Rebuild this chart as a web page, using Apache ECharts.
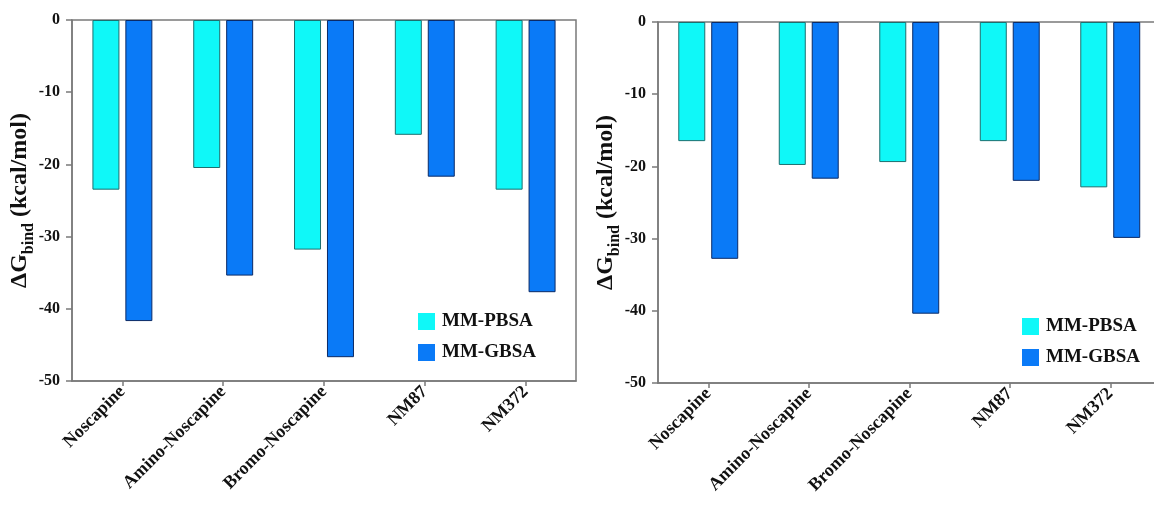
<!DOCTYPE html>
<html>
<head>
<meta charset="utf-8">
<script src="https://cdn.jsdelivr.net/npm/echarts@6/dist/echarts.min.js"></script>
<style>
  html, body { margin: 0; padding: 0; background: #fff; overflow: hidden; }
  /* a bit wider than the window so the right panel's box runs off the edge like the figure */
  #chart { width: 1164px; height: 513px; }
</style>
</head>
<body>
<div id="chart"></div>
<script>
const categories = ['Noscapine', 'Amino-Noscapine', 'Bromo-Noscapine', 'NM87', 'NM372'];
const yTicks = [0, -10, -20, -30, -40, -50];

// left panel
const pbsaLeft = [-23.5, -20.5, -31.8, -15.9, -23.5];
const gbsaLeft = [-41.7, -35.4, -46.7, -21.7, -37.7];
// right panel
const pbsaRight = [-16.5, -19.8, -19.4, -16.5, -22.9];
const gbsaRight = [-32.8, -21.7, -40.4, -22.0, -29.9];

const FONT = '"Liberation Serif", "Times New Roman", serif';
const axisGray = '#7a7a7a';
const cyan = '#0ff8f8';
const blue = '#0a7af7';

const chart = echarts.init(document.getElementById('chart'));

function xAxisFor(gridIndex) {
  return {
    type: 'category',
    gridIndex,
    data: categories,
    position: 'bottom',
    boundaryGap: true,
    axisLine: { show: true, onZero: false, lineStyle: { color: axisGray, width: 1.5 } },
    axisTick: { show: true, alignWithLabel: true, length: 5, lineStyle: { color: axisGray, width: 1.5 } },
    axisLabel: {
      rotate: 45,
      margin: 8,
      interval: 0,
      color: '#111',
      fontFamily: FONT,
      fontWeight: 'bold',
      fontSize: 18,
    },
  };
}

function yAxisFor(gridIndex) {
  return {
    type: 'value',
    gridIndex,
    min: -50,
    max: 0,
    interval: 10,
    splitLine: { show: false },
    axisLine: { show: true, lineStyle: { color: axisGray, width: 1.5 } },
    axisTick: { show: true, length: 6, lineStyle: { color: axisGray, width: 1.5 } },
    axisLabel: {
      margin: 12,
      color: '#111',
      fontFamily: FONT,
      fontWeight: 'bold',
      fontSize: 16,
      formatter: (v) => (yTicks.includes(v) ? String(v) : ''),
    },
    name: '{a|ΔG}{s|bind}{a| (kcal/mol)}',
    nameLocation: 'middle',
    nameGap: 35,
    nameMoveOverlap: false,
    nameRotate: 90,
    nameTextStyle: {
      rich: {
        a: { fontFamily: FONT, fontWeight: 'bold', fontSize: 24, color: '#111', lineHeight: 34, verticalAlign: 'middle' },
        s: { fontFamily: FONT, fontWeight: 'bold', fontSize: 16, color: '#111', lineHeight: 34, verticalAlign: 'bottom' },
      },
    },
  };
}

function barSeries(name, data, idx, color, border) {
  return {
    name,
    type: 'bar',
    xAxisIndex: idx,
    yAxisIndex: idx,
    data,
    barWidth: 27,
    barGap: '22%',
    itemStyle: { color, borderColor: border, borderWidth: 1 },
  };
}

function legendAt(left, top) {
  return {
    orient: 'vertical',
    left,
    top,
    padding: 0,
    itemWidth: 17,
    itemHeight: 17,
    itemGap: 12,
    icon: 'rect',
    data: ['MM-PBSA', 'MM-GBSA'],
    itemStyle: { borderWidth: 0 },
    textStyle: { fontFamily: FONT, fontWeight: 'bold', fontSize: 19, color: '#111', padding: [0, 0, 0, 2] },
  };
}

const gridBase = {
  show: true,
  borderColor: axisGray,
  borderWidth: 1.5,
  backgroundColor: 'transparent',
  containLabel: false,
  outerBoundsMode: 'none',
};

chart.setOption({
  animation: false,
  backgroundColor: '#fff',
  grid: [
    { ...gridBase, left: 72, top: 20, width: 504, height: 361 },
    { ...gridBase, left: 658, top: 22, width: 502.5, height: 361 },
  ],
  xAxis: [xAxisFor(0), xAxisFor(1)],
  yAxis: [yAxisFor(0), yAxisFor(1)],
  legend: [legendAt(418, 312), legendAt(1022, 317)],
  series: [
    barSeries('MM-PBSA', pbsaLeft, 0, cyan, '#1d6f6f'),
    barSeries('MM-GBSA', gbsaLeft, 0, blue, '#0b2a66'),
    barSeries('MM-PBSA', pbsaRight, 1, cyan, '#1d6f6f'),
    barSeries('MM-GBSA', gbsaRight, 1, blue, '#0b2a66'),
  ],
});
</script>
</body>
</html>
